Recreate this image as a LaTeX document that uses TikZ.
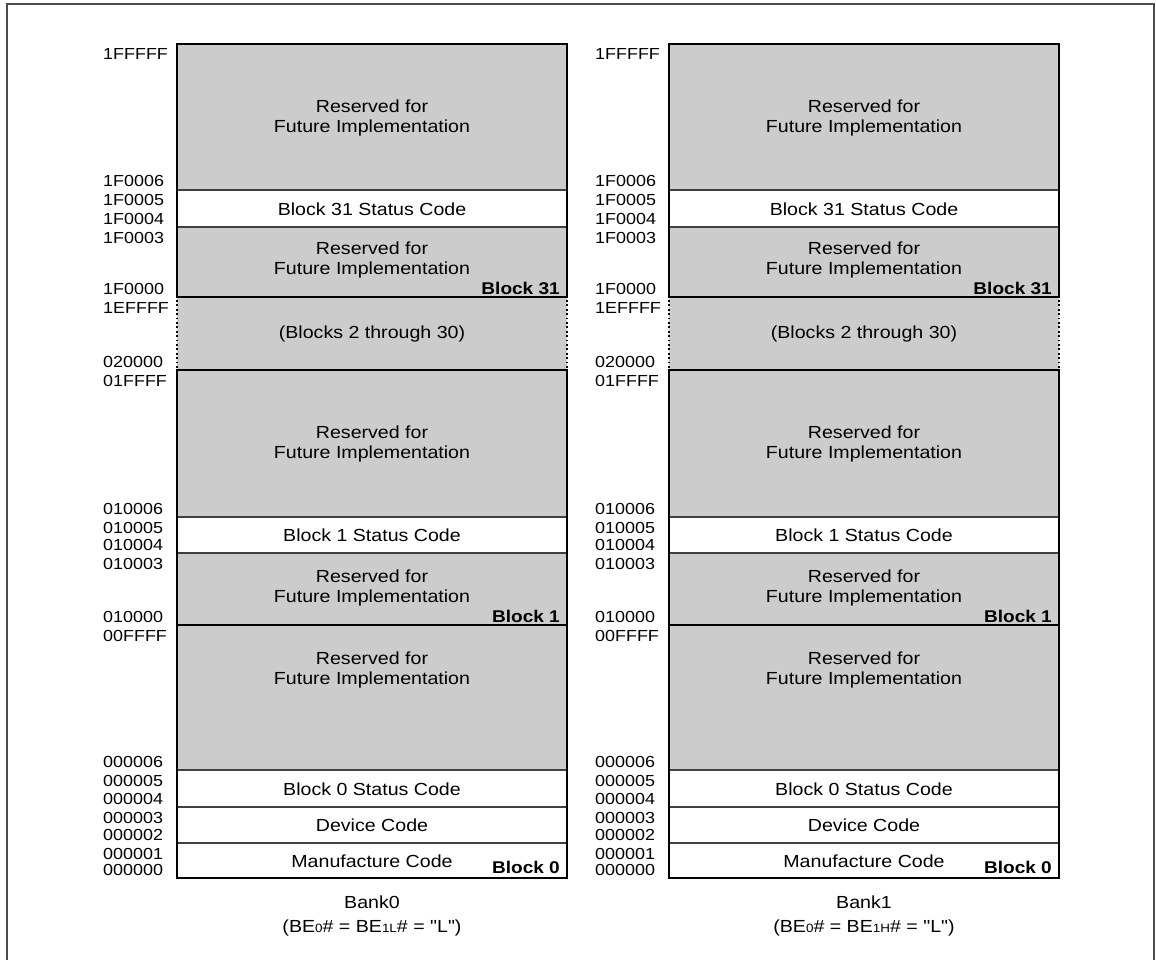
\documentclass[tikz,border=0pt]{standalone}
\usepackage{fontspec}
\setmainfont{Liberation Sans}
\newfontfamily\widefont{Liberation Sans}[FakeStretch=1.12]
\newcommand\smallsub[1]{{\fontsize{12}{12}\selectfont #1}}
\newcommand\addrfont{\widefont\fontsize{16}{18}\selectfont}
\tikzset{
  resv/.style={fill=gray!40},
  thickln/.style={line width=2.6pt, line join=miter},
  thinln/.style={line width=1.2pt, draw=black!75},
  dotln/.style={line width=1.8pt, dash pattern=on 1.8pt off 2.6pt},
  addr/.style={font=\addrfont, anchor=base west, inner sep=0pt},
  ctr/.style={font=\widefont\fontsize{17.5}{19.5}\selectfont, align=center, inner sep=0pt},
  blk/.style={font=\widefont\bfseries\fontsize{17}{18}\selectfont, anchor=base east, inner sep=0pt},
  frame/.style={line width=1.3pt, draw=black!70},
}
\newcommand\drawbank[4]{%
\begin{scope}[xshift=#2pt]
  % fills
  \fill[resv] (177,44) rectangle (567,190);
  \fill[white] (177,190) rectangle (567,227);
  \fill[resv] (177,227) rectangle (567,370);
  \fill[resv] (177,370) rectangle (567,517);
  \fill[white] (177,517) rectangle (567,553);
  \fill[resv] (177,553) rectangle (567,770);
  \fill[white] (177,770) rectangle (567,878);
  % thin separators
  \foreach \yy in {190,227,517,553,770,807,843}
    \draw[thinln] (177,\yy) -- (567,\yy);
  % thick outlines
  \draw[thickln] (177,44) rectangle (567,297);
  \draw[thickln] (177,370) rectangle (567,625);
  \draw[thickln] (177,625) rectangle (567,878);
  % dotted sides of the omitted blocks
  \draw[dotln] (177,300) -- (177,368);
  \draw[dotln] (567,300) -- (567,368);
  % address labels
  \foreach \yy/\lbl [count=\i] in {60/1FFFFF,187/1F0006,206/1F0005,224/1F0004,243/1F0003,
      294/1F0000,313/1EFFFF,367/020000,386/01FFFF,514/010006,533/010005,550/010004,
      569/010003,622/010000,641/00FFFF,767/000006,786/000005,804/000004,823/000003,
      840/000002,859/000001,875/000000}
    \node[addr] (#1a\i) at (103,\yy) {\lbl};
  % region texts
  \node[ctr] (#1r31top) at (372,118) {Reserved for\\Future Implementation};
  \node[ctr] (#1s31) at (372,209) {Block 31 Status Code};
  \node[ctr] (#1r31bot) at (372,260) {Reserved for\\Future Implementation};
  \node[ctr] (#1mid) at (372,334) {(Blocks 2 through 30)};
  \node[ctr] (#1r1top) at (372,444) {Reserved for\\Future Implementation};
  \node[ctr] (#1s1) at (372,535) {Block 1 Status Code};
  \node[ctr] (#1r1bot) at (372,588) {Reserved for\\Future Implementation};
  \node[ctr] (#1r0top) at (372,670) {Reserved for\\Future Implementation};
  \node[ctr] (#1s0) at (372,789) {Block 0 Status Code};
  \node[ctr] (#1dev) at (372,825) {Device Code};
  \node[ctr] (#1man) at (372,861) {Manufacture Code};
  % block labels
  \node[blk] (#1b31) at (560,294) {Block 31};
  \node[blk] (#1b1) at (560,622) {Block 1};
  \node[blk] (#1b0) at (560,873) {Block 0};
  % caption
  \node[ctr, anchor=base] (#1bank) at (372,908) {#3};
  \node[ctr, anchor=base] (#1be) at (372,932) {(BE\smallsub{0}\# = BE\smallsub{1#4}\# = "L")};
\end{scope}}
\begin{document}
\begin{tikzpicture}[x=1pt, y=-1pt]
  \useasboundingbox (0,0) rectangle (1156,960);
  \draw[frame] (7,962) -- (7,4) -- (1154,4) -- (1154,962);
  \drawbank{L}{0}{Bank0}{L}
  \drawbank{R}{492}{Bank1}{H}
\end{tikzpicture}
\end{document}
